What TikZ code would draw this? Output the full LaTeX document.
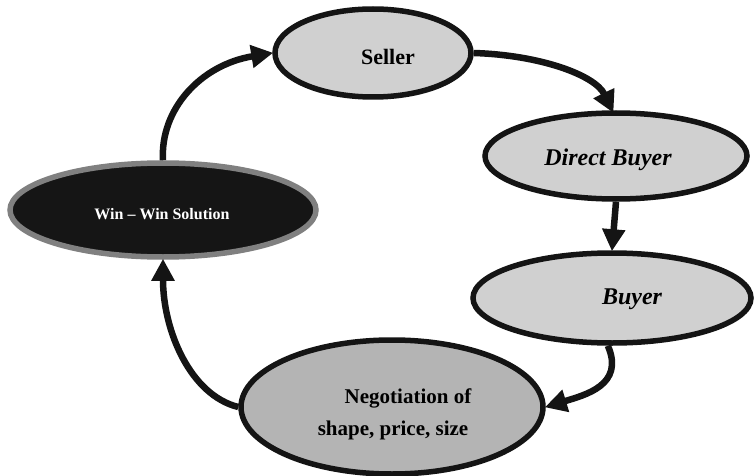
\documentclass[tikz,border=0pt]{standalone}
\usepackage{fontspec}
\setmainfont{Liberation Serif}
\usetikzlibrary{arrows.meta,shapes.geometric}
\definecolor{lightfill}{HTML}{D0D0D0}
\definecolor{midfill}{HTML}{B4B4B4}
\definecolor{darkfill}{HTML}{151515}
\definecolor{rimgray}{HTML}{808080}
\tikzset{
  oval/.style={ellipse, draw=black!92, line width=5.5pt, inner sep=0pt, font=\bfseries},
  flow/.style={draw=black!92, line width=6.5pt, -{Triangle[length=22pt,width=22pt]}, shorten >=-1pt},
  lbl/.style={font=\bfseries, inner sep=0pt}
}
\begin{document}
\begin{tikzpicture}[x=1pt,y=-1pt]
\useasboundingbox (0,0) rectangle (755,476);
\node[oval, fill=lightfill, minimum width=196pt, minimum height=88pt] (seller) at (373,53) {};
\node[lbl, font=\fontsize{22}{26}\selectfont\bfseries] at (388,57) {Seller};
\node[oval, fill=lightfill, minimum width=262pt, minimum height=86pt] (direct) at (616,156) {};
\node[lbl, font=\fontsize{24}{28}\selectfont\bfseries\itshape] at (608,160) {Direct Buyer};
\node[oval, fill=lightfill, minimum width=278pt, minimum height=90pt] (buyer) at (612,298) {};
\node[lbl, font=\fontsize{24}{28}\selectfont\bfseries\itshape] at (632,299) {Buyer};
\node[oval, fill=midfill, minimum width=302pt, minimum height=134pt] (nego) at (392,407) {};
\node[lbl, font=\fontsize{21}{25}\selectfont\bfseries] at (408,398) {Negotiation of};
\node[lbl, font=\fontsize{21}{25}\selectfont\bfseries] at (393,430) {shape, price, size};
\node[ellipse, draw=rimgray, line width=5.5pt, fill=darkfill, inner sep=0pt, minimum width=306pt, minimum height=94pt] (win) at (163,210) {};
\node[lbl, text=white, font=\fontsize{16}{19}\selectfont\bfseries] at (162,214) {Win -- Win Solution};
\draw[flow] (win.north) .. controls (160,110) and (200,65) .. (seller.west);
\draw[flow] (seller.east) .. controls (540,55) and (595,75) .. (613,112);
\draw[flow] (direct.south) -- (buyer.north);
\draw[flow] (buyer.-95) .. controls (625,385) and (585,395) .. (nego.east);
\draw[flow] (nego.west) .. controls (190,395) and (163,330) .. (win.south);
\end{tikzpicture}
\end{document}
